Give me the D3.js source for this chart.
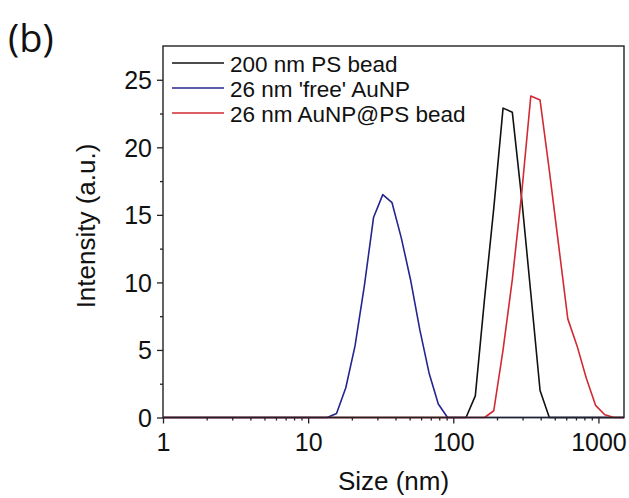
<!DOCTYPE html>
<html>
<head>
<meta charset="utf-8">
<script src="https://cdn.jsdelivr.net/npm/d3@7"></script>
<style>
  html, body { margin: 0; padding: 0; background: #fff; }
  svg { display: block; font-family: "Liberation Sans", Arial, sans-serif; }
</style>
</head>
<body>
<svg id="chart" width="629" height="498"></svg>
<script>
// Size bins (nm)
const sizes = [0.9649, 1.117, 1.294, 1.499, 1.736, 2.010, 2.328, 2.696, 3.122, 3.615,
  4.187, 4.849, 5.615, 6.503, 7.531, 8.721, 10.10, 11.70, 13.54, 15.69,
  18.17, 21.04, 24.36, 28.21, 32.67, 37.84, 43.82, 50.75, 58.77, 68.06,
  78.82, 91.28, 105.7, 122.4, 141.8, 164.2, 190.1, 220.2, 255.0, 295.3,
  342.0, 396.1, 458.7, 531.2, 615.1, 712.4, 825.0, 955.4, 1106, 1281,
  1484, 1718];

// Intensity values per bin
const psBead = [0,0,0,0,0,0,0,0,0,0, 0,0,0,0,0,0,0,0,0,0,
  0,0,0,0,0,0,0,0,0,0, 0,0,0,0,1.6,8.8,15.5,22.9,22.6,16.3,
  9.2,2.0,0,0,0,0,0,0,0,0, 0,0];
const freeAuNP = [0,0,0,0,0,0,0,0,0,0, 0,0,0,0,0,0,0,0,0,0.3,
  2.2,5.3,9.7,14.8,16.5,15.9,13.3,10.2,6.5,3.3, 1.0,0,0,0,0,0,0,0,0,0,
  0,0,0,0,0,0,0,0,0,0, 0,0];
const auPS = [0,0,0,0,0,0,0,0,0,0, 0,0,0,0,0,0,0,0,0,0,
  0,0,0,0,0,0,0,0,0,0, 0,0,0,0,0,0,0.5,5.0,10.2,16.5,
  23.8,23.5,18.3,12.8,7.3,5.3,2.9,0.9,0.2,0, 0,0];

const seriesNames = ["200 nm PS bead", "26 nm 'free' AuNP", "26 nm AuNP@PS bead"];
const seriesColors = ["#111111", "#25258f", "#d02a32"];
const seriesValues = [psBead, freeAuNP, auPS];

const xTicks = [1, 10, 100, 1000];
const yTicks = [0, 5, 10, 15, 20, 25];

const FONT = "'Liberation Sans', Arial, sans-serif";
const svg = d3.select("#chart");
const L = 163, R = 624, T = 46, B = 417.5;

const x = d3.scaleLog().domain([1, 1500]).range([L, R]);
const y = d3.scaleLinear().domain([0, 27.5]).range([B, T]);

const xMinor = [];
[1, 10, 100, 1000].forEach(d => { for (let k = 2; k <= 9; k++) if (d * k <= 1500) xMinor.push(d * k); });
const yMinor = [2.5, 7.5, 12.5, 17.5, 22.5];

// clip
svg.append("clipPath").attr("id", "clip").append("rect")
  .attr("x", L).attr("y", T).attr("width", R - L).attr("height", B - T + 2);

// axes
const axX = svg.append("g").attr("transform", `translate(0,${B})`)
  .call(d3.axisBottom(x).tickValues(xTicks).tickFormat(d3.format("d")).tickSize(6).tickPadding(10));
const axXm = svg.append("g").attr("transform", `translate(0,${B})`)
  .call(d3.axisBottom(x).tickValues(xMinor).tickFormat("").tickSize(3));
const axY = svg.append("g").attr("transform", `translate(${L},0)`)
  .call(d3.axisLeft(y).tickValues(yTicks).tickSize(6).tickPadding(5));
const axYm = svg.append("g").attr("transform", `translate(${L},0)`)
  .call(d3.axisLeft(y).tickValues(yMinor).tickFormat("").tickSize(3));

[axX, axXm, axY, axYm].forEach(g => {
  g.attr("font-family", FONT);
  g.select(".domain").remove();
  g.selectAll("line").attr("stroke", "#222").attr("stroke-width", 1.3);
  g.selectAll("text").attr("font-size", 25).attr("fill", "#111").attr("font-family", FONT);
});
axY.selectAll("text").attr("dy", "0.36em");

// lines
const line = d3.line().x((d, i) => x(sizes[i])).y(d => y(d));
const plot = svg.append("g").attr("clip-path", "url(#clip)");
seriesValues.forEach((vals, k) => {
  plot.append("path").datum(vals)
    .attr("fill", "none").attr("stroke", seriesColors[k])
    .attr("stroke-width", 1.6).attr("stroke-linejoin", "round")
    .attr("d", line);
});

// frame
svg.append("rect").attr("x", L).attr("y", T).attr("width", R - L).attr("height", B - T)
  .attr("fill", "none").attr("stroke", "#222").attr("stroke-width", 1.4);

// legend
const legend = svg.append("g").attr("font-family", FONT);
seriesNames.forEach((name, k) => {
  const yy = 63 + k * 25;
  legend.append("line").attr("x1", 172).attr("x2", 224).attr("y1", yy).attr("y2", yy)
    .attr("stroke", seriesColors[k]).attr("stroke-width", 1.6);
  legend.append("text").attr("x", 230).attr("y", yy + 8.5)
    .attr("font-size", 22.5).attr("fill", "#111").attr("font-family", FONT).text(name);
});

// axis titles
svg.append("text").attr("x", (L + R) / 2).attr("y", 490).attr("text-anchor", "middle")
  .attr("font-size", 26).attr("fill", "#111").attr("font-family", FONT).text("Size (nm)");
svg.append("text").attr("transform", `translate(95,226) rotate(-90)`).attr("text-anchor", "middle")
  .attr("font-size", 26).attr("fill", "#111").attr("font-family", FONT).text("Intensity (a.u.)");

// panel label
svg.append("text").attr("x", 8).attr("y", 52).attr("font-size", 38).attr("fill", "#111")
  .attr("font-family", "'Open Sans', sans-serif").text("(b)");
</script>
</body>
</html>
